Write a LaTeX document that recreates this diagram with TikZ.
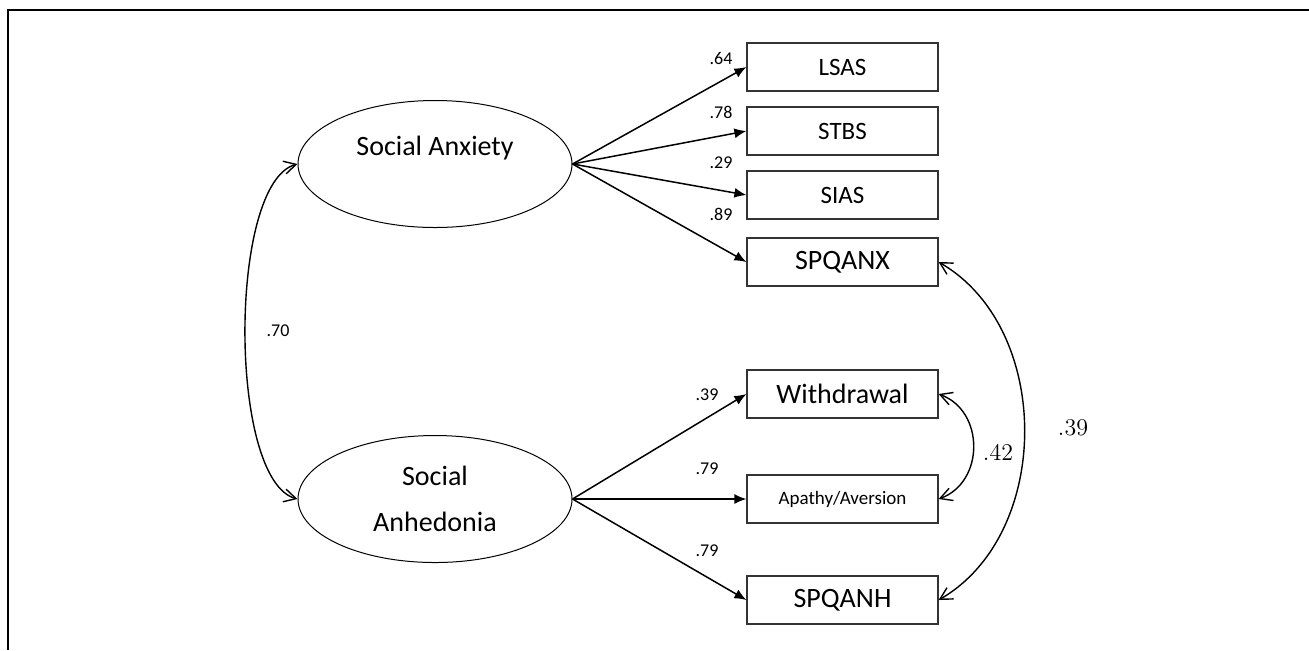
\documentclass[tikz,border=0pt]{standalone}
\usepackage{fontspec}
\setsansfont{Carlito}
\usetikzlibrary{arrows.meta,shapes.geometric,positioning}

\begin{document}
\begin{tikzpicture}[x=0.5pt,y=-0.5pt,>={Latex[length=6pt,width=5pt]},
		latent/.style={ellipse,draw,line width=0.5pt,minimum width=137pt,minimum height=63.5pt,
			inner sep=0pt,align=center,font=\sffamily\fontsize{14}{23}\selectfont},
		obs/.style={rectangle,draw=black!80,line width=0.6pt,minimum width=95.5pt,minimum height=24pt,
			inner sep=0pt,font=\sffamily\fontsize{14}{16}\selectfont},
		small/.style={font=\sffamily\fontsize{12.5}{15}\selectfont},
		load/.style={font=\sffamily\fontsize{9}{11}\selectfont},
		corr/.style={font=\fontsize{12}{14}\selectfont},
		cov/.style={{Straight Barb[length=6pt,width=6.5pt]}-{Straight Barb[length=6pt,width=6.5pt]},line width=0.7pt},
		node distance=32pt]

		\useasboundingbox (0,0) rectangle (1309,650);
		\draw[line width=0.8pt] (1309,10) -- (8,10) -- (8,650);

		% latent factors
		\node[latent] (anx) at (435,164) {Social Anxiety\\[-5pt]\mbox{}};
		\node[latent] (anh) at (435,499) {Social\\Anhedonia};

		% indicators
		\node[obs,small] (lsas) at (842.5,67) {LSAS};
		\node[obs,small] (stbs) [below of=lsas] {STBS};
		\node[obs,small] (sias) [below of=stbs] {SIAS};
		\node[obs] (spqanx) [below of=sias,node distance=33.5pt] {SPQANX};

		\node[obs] (wdr) at (842.5,394) {Withdrawal};
		\node[obs,font=\sffamily\fontsize{9.5}{11}\selectfont] (apa) [below of=wdr,node distance=52.5pt] {Apathy/Aversion};
		\node[obs] (spqanh) [below of=apa,node distance=50.5pt] {SPQANH};

		\path[->,line width=0.75pt]
		(anx.east) edge (lsas.west)
		(anx.east) edge (stbs.west)
		(anx.east) edge (sias.west)
		(anx.east) edge (spqanx.west)
		(anh.east) edge (wdr.west)
		(anh.east) edge (apa.west)
		(anh.east) edge (spqanh.west);

		% loadings
		\node[load] (l1) at (721,58) {.64};
		\node[load] (l2) at (721,112) {.78};
		\node[load] (l3) at (721,163) {.29};
		\node[load] (l4) at (721,214) {.89};
		\node[load] (l5) at (707,395) {.39};
		\node[load] (l6) at (707,469) {.79};
		\node[load] (l7) at (707,551) {.79};

		% covariances
		\draw[cov] (anx.west) to[out=195,in=165,looseness=0.55] (anh.west);
		\draw[cov] (wdr.east) to[out=-20,in=20,looseness=1.2] (apa.east);
		\draw[cov] (spqanx.east) to[out=-30,in=30] (spqanh.east);

		\node[load] (r1) at (278,331) {.70};
		\node[corr] (r2) at (998,452) {.42};
		\node[corr] (r3) at (1073,428) {.39};
\end{tikzpicture}
\end{document}
